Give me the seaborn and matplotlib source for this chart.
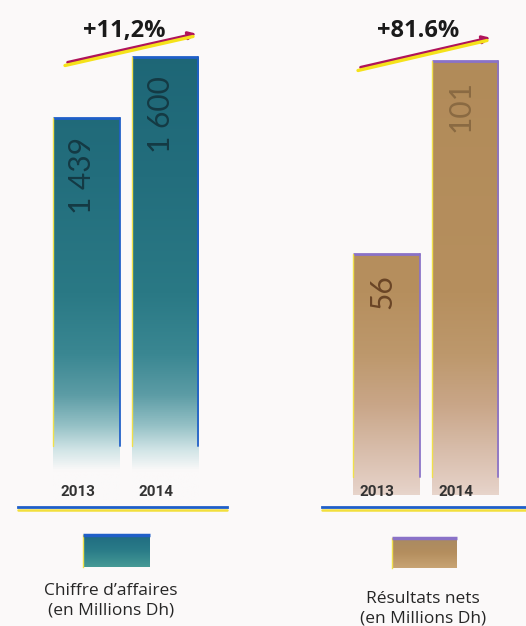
import numpy as np
import matplotlib
matplotlib.use("Agg")
import matplotlib.pyplot as plt
import seaborn as sns
from matplotlib.colors import LinearSegmentedColormap
from matplotlib.patches import FancyArrowPatch
from matplotlib.lines import Line2D

# ==================== DONNÉES ====================
years            = ["2013", "2014"]
chiffre_affaires = [1439, 1600]   # en Millions Dh
resultats_nets   = [56, 101]      # en Millions Dh
growth_labels    = ["+11,2%", "+81.6%"]
legend_labels    = ["Chiffre d\u2019affaires\n(en Millions Dh)",
                    "Résultats nets\n(en Millions Dh)"]
# =================================================

W, H = 526, 626
BG = "#fbf9f9"

def fx(px):
    return px / W

def fy(py):
    return 1 - py / H

sns.set_theme(style="white")
plt.rcParams["font.family"] = ["Open Sans", "DejaVu Sans"]

fig = plt.figure(figsize=(W / 100, H / 100), dpi=100, facecolor=BG)

grad = np.linspace(0, 1, 1024).reshape(-1, 1)

# dégradés (position = fraction de hauteur de l'axe)
teal_cmap = LinearSegmentedColormap.from_list(
    "teal", [(0, BG), (0.07, BG), (0.11, "#d2e5e7"), (0.16, "#94c0c5"), (0.22, "#5c9ca5"),
             (0.30, "#3a8792"), (0.42, "#2a7985"), (0.65, "#236e7d"), (1, "#1c6373")])
tan_cmap = LinearSegmentedColormap.from_list(
    "tan", [(0, "#ecdcd5"), (0.04, "#e4cfc4"), (0.11, "#d8bdab"), (0.2, "#c9a688"),
            (0.3, "#bd986c"), (0.42, "#b68f5e"), (1, "#b08a58")])


def draw_panel(ax, values, cmap, edge_col, label_cols, xlim, ylim, edge_frac):
    sns.barplot(x=years, y=values, ax=ax, width=0.85, color=edge_col)
    ax.set_xlim(xlim)
    ax.set_ylim(ylim)
    fade_val = ylim[0] + edge_frac * (ylim[1] - ylim[0])
    for i, p in enumerate(ax.patches):
        p.set_facecolor("none")
        p.set_edgecolor("none")
        im = ax.imshow(grad, cmap=cmap, origin="lower", aspect="auto",
                       extent=[xlim[0], xlim[1], ylim[0], ylim[1]], zorder=1,
                       interpolation="bilinear")
        im.set_clip_path(p)
        x0 = p.get_x()
        x1 = x0 + p.get_width()
        top = p.get_y() + p.get_height()
        ax.plot([x0, x1], [top, top], color=edge_col, lw=2, zorder=3, solid_capstyle="butt")
        ax.plot([x1, x1], [top, fade_val], color=edge_col, lw=1.4, zorder=3, alpha=0.9)
        ax.plot([x0, x0], [top, fade_val], color="#f0e04a", lw=1.0, zorder=3)
        txt = f"{values[i]:,}".replace(",", " ")
        ax.annotate(txt, xy=(x0 + p.get_width() / 2, top), xytext=(-3, -14),
                    textcoords="offset points", rotation=90, ha="center", va="top",
                    fontsize=21.5, family=["Lato", "DejaVu Sans"], color=label_cols[i], zorder=4)
    ax.set_xlim(xlim)
    ax.set_ylim(ylim)

    for i, yr in enumerate(years):
        ax.annotate(yr, xy=(i, 0), xycoords=("data", "axes fraction"), xytext=(-6.5, 11),
                    textcoords="offset points", ha="center", va="center", fontsize=11,
                    fontweight="bold", family=["Roboto", "DejaVu Sans"], color="#333333", zorder=4)

    ax.set_xticks([])
    ax.set_yticks([])
    ax.set_xlabel("")
    ax.set_ylabel("")
    ax.set_facecolor("none")
    for s in ["top", "left", "right"]:
        ax.spines[s].set_visible(False)
    ax.spines["bottom"].set_color("#1f5fc8")
    ax.spines["bottom"].set_linewidth(2)
    ax.plot([0, 1], [-0.006, -0.006], transform=ax.transAxes, color="#f2df3c",
            lw=1.8, clip_on=False)


ax1 = fig.add_axes([fx(18), fy(507), fx(209), 507 / H])
draw_panel(ax1, chiffre_affaires, teal_cmap, "#1f5fc8", ["#143a44", "#143a44"],
           (-0.873, 1.79), (412, 1750), 0.12)

ax2 = fig.add_axes([fx(322), fy(507), fx(204), 507 / H])
draw_panel(ax2, resultats_nets, tan_cmap, "#8a72c8", ["#6a4526", "#8a6a42"],
           (-0.82, 1.777), (-2.8, 115.2), 0.06)

# --- flèches de croissance ---
arrows = [((65, 63), (199, 33)), ((358, 68), (493, 37))]
for (x0, y0), (x1, y1) in arrows:
    fig.add_artist(Line2D([fx(x0), fx(x1 - 6)], [fy(y0 + 2.5), fy(y1 + 3.5)],
                          transform=fig.transFigure, color="#f5e21a", lw=2.4))
    fig.add_artist(FancyArrowPatch((fx(x0), fy(y0)), (fx(x1), fy(y1)),
                                   transform=fig.transFigure, arrowstyle="-|>",
                                   mutation_scale=11, lw=2.2, color="#b0145a"))

fig.text(fx(124), fy(31), growth_labels[0], ha="center", va="center",
         fontsize=17, fontweight="bold", color="#1a1a1a")
fig.text(fx(418), fy(31), growth_labels[1], ha="center", va="center",
         fontsize=17, fontweight="bold", color="#1a1a1a")

# --- légende ---
def swatch(rect, cmap, top_col):
    sax = fig.add_axes(rect)
    sax.imshow(grad, cmap=cmap, origin="lower", aspect="auto", extent=[0, 1, 0, 1])
    sax.set_xticks([])
    sax.set_yticks([])
    for s in sax.spines.values():
        s.set_visible(False)
    sax.spines["top"].set_visible(True)
    sax.spines["top"].set_color(top_col)
    sax.spines["top"].set_linewidth(2.5)
    sax.spines["top"].set_capstyle("butt")
    sax.spines["left"].set_visible(True)
    sax.spines["left"].set_color("#f0e04a")
    sax.spines["left"].set_linewidth(1)

swatch([fx(83), fy(567), fx(67), 32 / H],
       LinearSegmentedColormap.from_list("sw1", ["#469a96", "#2a7c88", "#1f6a80"]), "#1f5fc8")
swatch([fx(392), fy(568), fx(65), 30 / H],
       LinearSegmentedColormap.from_list("sw2", ["#c8a474", "#b48e5e", "#a88a62"]), "#8a72c8")

fig.text(fx(111), fy(601), legend_labels[0], ha="center", va="center",
         fontsize=12.5, linespacing=1.3, color="#262626")
fig.text(fx(423), fy(609), legend_labels[1], ha="center", va="center",
         fontsize=12.5, linespacing=1.3, color="#262626")

fig.savefig("out.png", dpi=100, facecolor=BG)
